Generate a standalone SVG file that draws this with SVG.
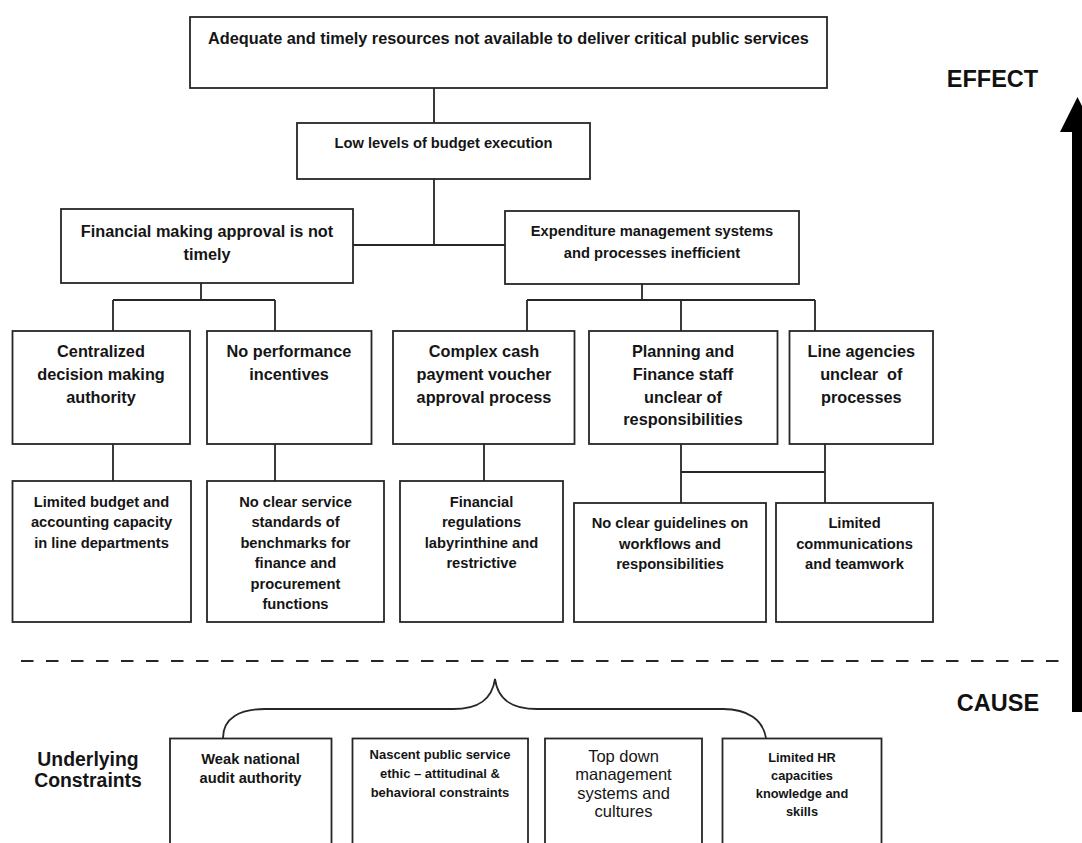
<svg xmlns="http://www.w3.org/2000/svg" width="1082" height="843" viewBox="0 0 1082 843">
<style>
.box{fill:#fff;stroke:#262626;stroke-width:1.8}
.ln{fill:none;stroke:#262626;stroke-width:1.8}
.t{font-family:"Liberation Sans",Arial,sans-serif;font-weight:bold;fill:#151515;text-anchor:middle}
.a{font-size:16.3px}
.b{font-size:14.7px}
.c{font-size:13px}
.r{font-family:"Liberation Sans",Arial,sans-serif;font-weight:normal;fill:#151515;text-anchor:middle;font-size:16.5px}
.big{font-family:"Liberation Sans",Arial,sans-serif;font-weight:bold;fill:#111;text-anchor:middle;font-size:23.5px}
</style>
<rect width="1082" height="843" fill="#fff"/>
<g id="connectors">
<path class="ln" d="M434,88V123M434,179V245M353,245H505"/>
<path class="ln" d="M201,283V300M113,300H275M113,300V331M275,300V331"/>
<path class="ln" d="M642,284V300M527,300H815M527,300V331M681,300V331M815,300V331"/>
<path class="ln" d="M113,444V481M275,444V481M484,444V481"/>
<path class="ln" d="M681,444V503M825,444V503M681,472H825"/>
<path class="ln" d="M223,738C223,718 240,709 265,709L453,709C478,709 492,700 495,679C498,700 512,709 537,709L723,709C748,709 763,720 766,738" stroke-width="1.5"/>
</g>
<g id="divider"><path d="M21,661H1070" stroke="#262626" stroke-width="2.2" stroke-dasharray="12.5,12.5" fill="none"/></g>
<g id="arrow"><path d="M1077.5,97L1095,132H1083V712H1072V132H1060Z" fill="#000"/></g>
<g id="label-effect"><text class="big" x="992.5" y="87">EFFECT</text></g>
<g id="label-cause"><text class="big" x="998" y="711">CAUSE</text></g>
<g id="n-top"><rect class="box" x="190" y="17" width="637" height="71"/><text class="t a" x="508.5" y="44">Adequate and timely resources not available to deliver critical public services</text></g>
<g id="n-low"><rect class="box" x="297" y="123" width="293" height="56"/><text class="t b" x="443.5" y="148">Low levels of budget execution</text></g>
<g id="n-fin"><rect class="box" x="61" y="209" width="292" height="74"/><text class="t a"><tspan x="207" y="236.7">Financial making approval is not</tspan><tspan x="207" y="260">timely</tspan></text></g>
<g id="n-exp"><rect class="box" x="505" y="211" width="294" height="73"/><text class="t b"><tspan x="652" y="235.7">Expenditure management systems</tspan><tspan x="652" y="258.3">and processes inefficient</tspan></text></g>
<g id="n-cent"><rect class="box" x="12.5" y="331" width="177.5" height="113"/><text class="t a"><tspan x="101" y="357">Centralized</tspan><tspan x="101" y="380">decision making</tspan><tspan x="101" y="402.7">authority</tspan></text></g>
<g id="n-perf"><rect class="box" x="207" y="331" width="164.5" height="113"/><text class="t a"><tspan x="289" y="357">No performance</tspan><tspan x="289" y="380">incentives</tspan></text></g>
<g id="n-cash"><rect class="box" x="393" y="331" width="181.5" height="113"/><text class="t a"><tspan x="484" y="357">Complex cash</tspan><tspan x="484" y="380">payment voucher</tspan><tspan x="484" y="402.7">approval process</tspan></text></g>
<g id="n-plan"><rect class="box" x="589" y="331" width="188.5" height="113"/><text class="t a"><tspan x="683" y="357">Planning and</tspan><tspan x="683" y="380">Finance staff</tspan><tspan x="683" y="402.7">unclear of</tspan><tspan x="683" y="425">responsibilities</tspan></text></g>
<g id="n-line"><rect class="box" x="789.5" y="331" width="143.5" height="113"/><text class="t a"><tspan x="861.3" y="357">Line agencies</tspan><tspan x="861.3" y="380" xml:space="preserve">unclear  of</tspan><tspan x="861.3" y="402.7">processes</tspan></text></g>
<g id="n-budget"><rect class="box" x="12.5" y="481" width="178.5" height="141"/><text class="t b"><tspan x="101.5" y="506.7">Limited budget and</tspan><tspan x="101.5" y="527.2">accounting capacity</tspan><tspan x="101.5" y="547.7">in line departments</tspan></text></g>
<g id="n-std"><rect class="box" x="207" y="481" width="177" height="141"/><text class="t b"><tspan x="295.5" y="506.7">No clear service</tspan><tspan x="295.5" y="527.2">standards of</tspan><tspan x="295.5" y="547.7">benchmarks for</tspan><tspan x="295.5" y="568.3">finance and</tspan><tspan x="295.5" y="589">procurement</tspan><tspan x="295.5" y="609.3">functions</tspan></text></g>
<g id="n-reg"><rect class="box" x="400" y="481" width="163" height="141"/><text class="t b"><tspan x="481.5" y="506.7">Financial</tspan><tspan x="481.5" y="527.2">regulations</tspan><tspan x="481.5" y="547.7">labyrinthine and</tspan><tspan x="481.5" y="568.3">restrictive</tspan></text></g>
<g id="n-guide"><rect class="box" x="574" y="503" width="192" height="119"/><text class="t b"><tspan x="670" y="528.3">No clear guidelines on</tspan><tspan x="670" y="548.5">workflows and</tspan><tspan x="670" y="569">responsibilities</tspan></text></g>
<g id="n-comm"><rect class="box" x="776" y="503" width="157" height="119"/><text class="t b"><tspan x="854.5" y="528.3">Limited</tspan><tspan x="854.5" y="548.5">communications</tspan><tspan x="854.5" y="569">and teamwork</tspan></text></g>
<g id="label-underlying"><text class="t" font-size="19.4" x="88" y="765.7"><tspan x="88" y="765.7">Underlying</tspan><tspan x="88" y="786.7">Constraints</tspan></text></g>
<g id="n-audit"><rect class="box" x="170" y="738.5" width="161.5" height="120"/><text class="t b"><tspan x="250.5" y="763.5">Weak national</tspan><tspan x="250.5" y="783.3">audit authority</tspan></text></g>
<g id="n-ethic"><rect class="box" x="352.5" y="738.5" width="175.5" height="120"/><text class="t c"><tspan x="440" y="759.3">Nascent public service</tspan><tspan x="440" y="777.9">ethic – attitudinal &amp;</tspan><tspan x="440" y="796.7">behavioral constraints</tspan></text></g>
<g id="n-topdown"><rect class="box" x="545" y="738.5" width="157" height="120"/><text class="r"><tspan x="623.5" y="761.7">Top down</tspan><tspan x="623.5" y="780">management</tspan><tspan x="623.5" y="798.5">systems and</tspan><tspan x="623.5" y="817">cultures</tspan></text></g>
<g id="n-hr"><rect class="box" x="722.5" y="738.5" width="159" height="120"/><text class="t" font-size="12.8"><tspan x="802" y="761.7">Limited HR</tspan><tspan x="802" y="779.6">capacities</tspan><tspan x="802" y="798">knowledge and</tspan><tspan x="802" y="816">skills</tspan></text></g>
</svg>
